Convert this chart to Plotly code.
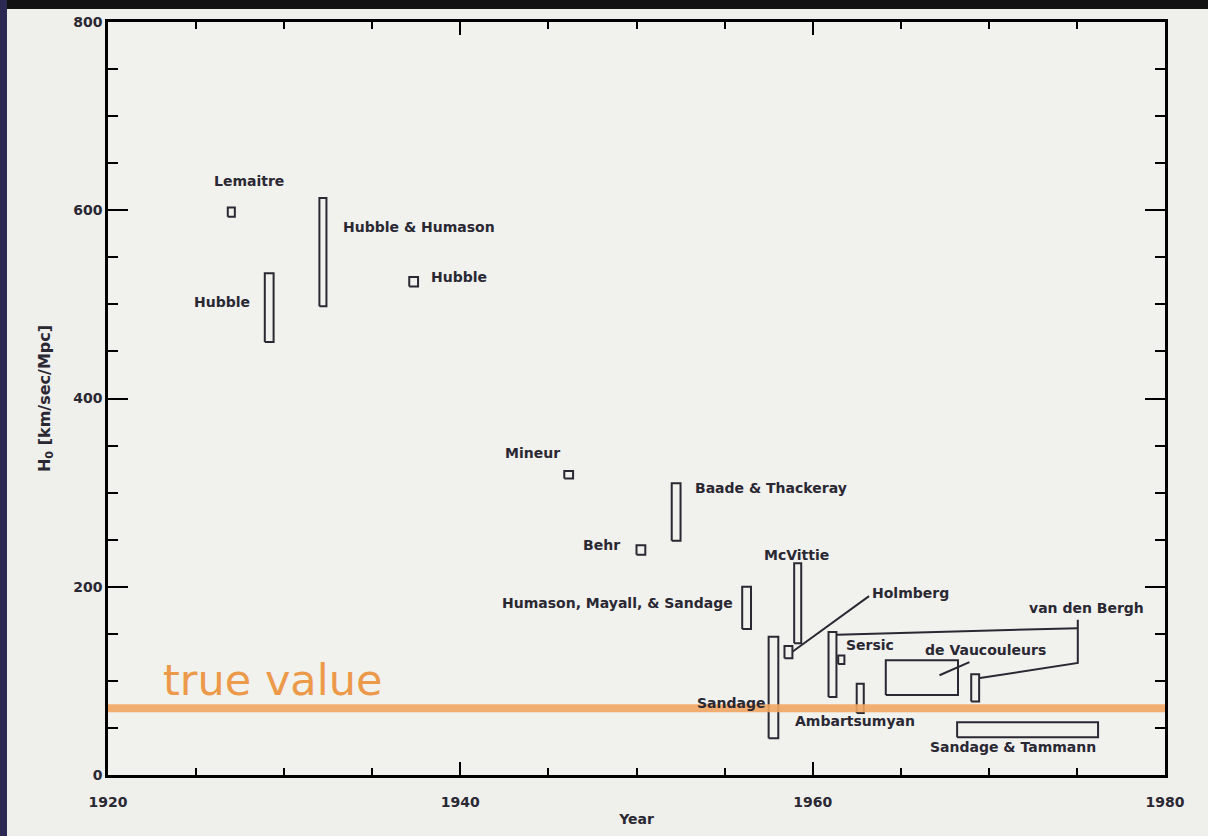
import plotly.graph_objects as go

# ---- data (year ranges and H0 ranges for each measurement box) ----
box_names = ["Lemaitre", "Hubble 1929", "Hubble & Humason", "Hubble 1936", "Mineur",
             "Behr", "Baade & Thackeray", "Humason, Mayall, & Sandage", "Sandage 1958",
             "Holmberg", "McVittie", "van den Bergh 1961", "Sersic", "Ambartsumyan",
             "de Vaucouleurs", "van den Bergh 1969", "Sandage & Tammann"]
year_lo = [1926.8, 1928.9, 1932.0, 1937.1, 1945.9, 1950.0, 1952.0, 1956.0, 1957.5,
           1958.4, 1958.95, 1960.9, 1961.45, 1962.5, 1964.15, 1969.0, 1968.2]
year_hi = [1927.2, 1929.4, 1932.4, 1937.6, 1946.4, 1950.5, 1952.5, 1956.5, 1958.05,
           1958.85, 1959.35, 1961.35, 1961.8, 1962.9, 1968.25, 1969.45, 1976.2]
h0_lo = [593, 460, 498, 519, 315, 234, 249, 155, 39, 124, 140, 83, 118, 66, 85, 78, 40]
h0_hi = [603, 533, 613, 529, 323, 244, 310, 200, 147, 137, 225, 152, 127, 97, 122, 107, 56]

label_text = ["Lemaitre", "Hubble", "Hubble & Humason", "Hubble", "Mineur", "Behr",
              "Baade & Thackeray", "Humason, Mayall, & Sandage", "McVittie", "Holmberg",
              "Sersic", "de Vaucouleurs", "van den Bergh", "Sandage", "Ambartsumyan",
              "Sandage & Tammann"]
label_year = [1928.0, 1928.2, 1933.2, 1938.2, 1944.1, 1949.2, 1953.2, 1955.6, 1959.1,
              1963.25, 1961.8, 1966.25, 1972.15, 1957.4, 1958.9, 1966.55]
label_h0 = [631, 503, 582, 529, 342, 244, 305, 183, 234, 193, 138, 133, 177, 76, 57, 30]
label_anchor = ["center", "right", "left", "left", "center", "right", "left", "right",
                "center", "left", "left", "left", "left", "right", "left", "left"]

# leader lines (polylines)
leader_years = [[1958.85, 1963.2],
                [1967.2, 1968.9],
                [1961.37, 1975.05],
                [1975.05, 1975.05, 1969.5]]
leader_h0 = [[131, 190],
             [106, 120],
             [149, 156],
             [165, 119, 103]]

true_value = 71
x_range = [1920, 1980]
y_range = [0, 800]
x_ticks = [1920, 1940, 1960, 1980]
y_ticks = [0, 200, 400, 600, 800]

ink = "#2a2833"
fig = go.Figure()

for i in range(len(box_names)):
    x0, x1, y0, y1 = year_lo[i], year_hi[i], h0_lo[i], h0_hi[i]
    fig.add_trace(go.Scatter(x=[x0, x1, x1, x0, x0], y=[y0, y0, y1, y1, y0],
                             mode="lines", line=dict(color=ink, width=2),
                             hoverinfo="skip", showlegend=False, name=box_names[i]))

for xs, ys in zip(leader_years, leader_h0):
    fig.add_trace(go.Scatter(x=xs, y=ys, mode="lines", line=dict(color=ink, width=2),
                             hoverinfo="skip", showlegend=False))

# true value line
fig.add_trace(go.Scatter(x=x_range, y=[true_value, true_value], mode="lines",
                         line=dict(color="rgba(242,166,98,0.9)", width=8),
                         hoverinfo="skip", showlegend=False))

for t, xv, yv, a in zip(label_text, label_year, label_h0, label_anchor):
    fig.add_annotation(x=xv, y=yv, text=t, showarrow=False, xanchor=a, yanchor="middle",
                       font=dict(family="DejaVu Sans", size=14, color=ink, weight="bold"))

fig.add_annotation(x=1923.0, y=true_value + 1, text="true value", showarrow=False,
                   xanchor="left", yanchor="bottom",
                   font=dict(family="DejaVu Sans", size=43, color="#ec9a4a"))

tick_font = dict(family="DejaVu Sans", size=14, color=ink, weight="bold")
axis_common = dict(showline=True, linecolor="black", linewidth=2.5, mirror="allticks",
                   ticks="inside", tickcolor="black", tickwidth=2, showgrid=False,
                   zeroline=False, tickfont=tick_font)

fig.update_xaxes(range=x_range, tickvals=x_ticks, ticklen=13, ticklabelstandoff=12,
                 minor=dict(dtick=5, tick0=1920, ticklen=7, ticks="inside",
                            tickcolor="black", tickwidth=2),
                 title=dict(text="Year", font=dict(family="DejaVu Sans", size=14, color=ink,
                                                   weight="bold"),
                            standoff=6),
                 **axis_common)
fig.update_yaxes(range=y_range, tickvals=y_ticks, ticklen=20,
                 minor=dict(dtick=50, tick0=0, ticklen=10, ticks="inside",
                            tickcolor="black", tickwidth=2),
                 title=dict(text="H<sub>0</sub> [km/sec/Mpc]",
                            font=dict(family="DejaVu Sans", size=16, color=ink,
                                      weight="bold"),
                            standoff=19),
                 **axis_common)

W, H = 1208, 836
ml, mr, mt, mb = 108, 43, 22, 61
pw, ph = W - ml - mr, H - mt - mb
# slide edges: black band on top, dark strip on left
fig.add_shape(type="rect", xref="paper", yref="paper",
              x0=-ml / pw, x1=1 + mr / pw, y0=1 + (mt - 9) / ph, y1=1 + mt / ph,
              fillcolor="#121212", line=dict(width=0), layer="below")
fig.add_shape(type="rect", xref="paper", yref="paper",
              x0=-ml / pw, x1=-(ml - 7) / pw, y0=-mb / ph, y1=1 + mt / ph,
              fillcolor="#2c2a52", line=dict(width=0), layer="below")

fig.update_layout(width=W, height=H, margin=dict(l=ml, r=mr, t=mt, b=mb),
                  paper_bgcolor="#efefec", plot_bgcolor="#f1f1ee")

fig.write_html("out.html", config={"displayModeBar": False},
               post_script="document.body.style.margin='0px';"
                           "document.body.style.overflow='hidden';")
